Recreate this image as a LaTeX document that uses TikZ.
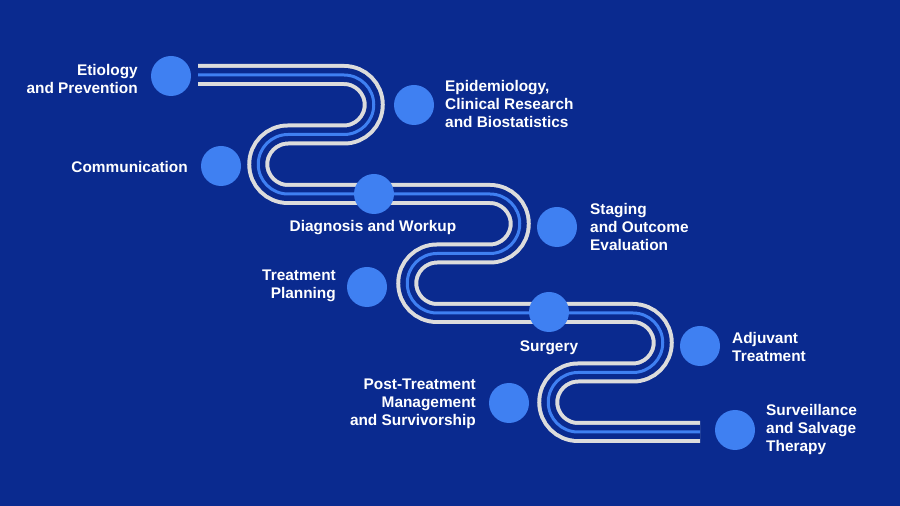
\documentclass[tikz,border=0pt]{standalone}
\usepackage{fontspec}
\setmainfont{Liberation Sans}
\definecolor{bg}{HTML}{0A2A8F}
\definecolor{dot}{HTML}{3F80F2}
\definecolor{rail}{HTML}{DCDCDC}
\begin{document}
\begin{tikzpicture}[x=1pt,y=1pt,
  dotnode/.style={circle,fill=dot,minimum size=40pt,inner sep=0pt},
  lbl/.style={text=white,font=\bfseries\fontsize{15.4}{18}\selectfont,inner sep=0pt}]
\fill[bg] (0,0) rectangle (900,506);
\useasboundingbox (0,0) rectangle (900,506);
% track: outer rails, gap, centre line
\foreach \w/\c in {22/rail,14/bg,3/dot}{
  \draw[line width=\w pt,color=\c]
    (198,431) -- (344,431) arc[start angle=90,end angle=-90,radius=29.75pt]
    -- (288,371.5) arc[start angle=90,end angle=270,radius=29.75pt]
    -- (490,312) arc[start angle=90,end angle=-90,radius=29.75pt]
    -- (437,252.5) arc[start angle=90,end angle=270,radius=29.75pt]
    -- (633,193) arc[start angle=90,end angle=-90,radius=29.75pt]
    -- (578,133.5) arc[start angle=90,end angle=270,radius=29.75pt]
    -- (700,74);
}
% milestones
\node[dotnode] (d1) at (171,430) {};
\node[dotnode] (d2) at (414,401) {};
\node[dotnode] (d3) at (221,340) {};
\node[dotnode] (d4) at (374,312) {};
\node[dotnode] (d5) at (557,279) {};
\node[dotnode] (d6) at (367,219) {};
\node[dotnode] (d7) at (549,194) {};
\node[dotnode] (d8) at (700,160) {};
\node[dotnode] (d9) at (509,103) {};
\node[dotnode] (d10) at (735,76) {};
% labels
\node[lbl,anchor=east,align=right] (t1) at (138,427) {Etiology\\and Prevention};
\node[lbl,anchor=west,align=left] (t2) at (445,402) {Epidemiology,\\Clinical Research\\and Biostatistics};
\node[lbl,anchor=east,align=right] (t3) at (188,339) {Communication};
\node[lbl,anchor=center] (t4) at (373,278) {Diagnosis and Workup};
\node[lbl,anchor=west,align=left] (t5) at (590,279) {Staging\\and Outcome\\Evaluation};
\node[lbl,anchor=east,align=right] (t6) at (336,220) {Treatment\\Planning};
\node[lbl,anchor=center] (t7) at (549,158) {Surgery};
\node[lbl,anchor=west,align=left] (t8) at (732,159) {Adjuvant\\Treatment};
\node[lbl,anchor=east,align=right] (t9) at (476,102) {Post-Treatment\\Management\\and Survivorship};
\node[lbl,anchor=west,align=left] (t10) at (766,76) {Surveillance\\and Salvage\\Therapy};
\end{tikzpicture}
\end{document}
